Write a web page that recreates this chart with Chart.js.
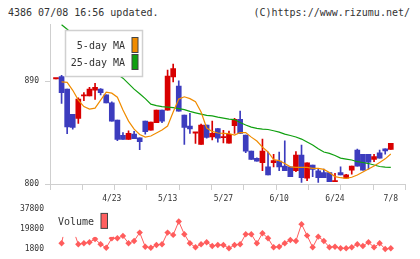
<!DOCTYPE html>
<html>
<head>
<meta charset="utf-8">
<script src="https://cdn.jsdelivr.net/npm/chart.js@4.4.1/dist/chart.umd.min.js"></script>
<style>
  body { margin: 0; background: #fff; width: 420px; height: 259px; overflow: hidden; position: relative; }
  .head { position: absolute; top: 6px; font: 10px/14px "DejaVu Sans Mono", monospace; color: #333; white-space: pre; }
  #price, #vol { position: absolute; left: 0; }
  #price { top: 0; }
  #vol { top: 200px; }
</style>
</head>
<body>
<div class="head" style="left:8px">4386 07/08 16:56 updated.</div>
<div class="head" style="right:10px">(C)https://www.rizumu.net/</div>
<canvas id="price" width="420" height="212"></canvas>
<canvas id="vol" width="420" height="59"></canvas>
<script>
// daily candles, oldest first (last one is 7/8)
const open  = [892,894,883,861,857.4,877,877,882,883,878,
               871,856,842.5,839,843.7,840.5,855,847,853.6,864.7,
               864.7,893.8,885.6,860.3,850.7,844.5,834.7,851.5,841.3,848.6,
               840.5,835.8,851,856.5,842.8,828.8,822.5,818.6,815,818.6,
               820,815.7,815,811.6,825.3,805,816.6,811.6,810,810,
               802,810,805,812.2,829.7,826,826,821.6,827.3,830.8,830.3];
const high  = [892,895,883,861,875.4,880,884.5,888,883.6,878,
               872,856,845,846.6,846,840.5,855,854.2,864.7,864.7,
               899.6,904.9,890.3,860.3,861.8,845,852.5,851.5,855,848.6,
               847,846.4,857.4,863.8,842.8,828.8,823,839.3,828,826,
               828,837.8,815,828.3,834,818.6,816.6,813,813,810,
               809.3,815,808.5,815.7,830.5,826,826,826,829.7,830.8,835.5];
const low   = [892,870.5,844,848,853,873,877,874,878,871,
               855,838,839,839,839.6,830,843.7,847,853.6,853.6,
               864.7,889.4,863.8,834.7,844.3,835.5,834.7,840,838.5,836.6,
               836,835.8,844.3,844.3,827.5,821.6,820,811.6,807.9,815,
               811.6,811.6,806.4,810.7,801.4,803,806.4,801.4,805.5,802,
               802,807.9,805,808.7,815.7,812.2,813,819.6,822.5,826,830.3];
const close = [892,880,850,849.5,874.3,878,883,884.5,880,871,
               855,839,839,844.3,839.6,837,845.7,854.2,864.7,855,
               894.4,901,863.8,849.5,848.3,845,851.5,840.8,844.3,840,
               841,843.4,856.5,844.3,828.8,821.6,820,828.8,808,820.4,
               815,811.6,806.4,825.3,805.5,818.6,812.8,805.5,805.5,802,
               802.6,808,808,815.7,815.7,812.2,819,824,822.5,829,835.5];

const ma5  = [null,889.4,888.9,882,873.4,867.7,865.5,866.4,873.4,880.4,
              879.5,876,864.7,855,848,843.3,841,842,844.6,847.2,
              850.7,863,874.3,876.3,874.7,872,863,849,846,844.6,
              844.3,844.1,842.8,845,845,841,837.6,832.3,828,821.4,
              820.4,818,815,814.6,814.6,814.6,813.7,813.7,812.8,810,
              806.5,805.5,805,805.9,807.9,810.5,813.1,815.7,818.8,822,826.2];
const ma25 = [null,939.4,935.4,931,926.7,922.3,917.9,913.6,909.2,904.9,
              900.5,896,892.6,887.8,883,879,874.7,869.9,868.6,867.7,
              867.3,866.8,866,865.1,863.5,862.3,861.2,860,859.6,858.5,
              857.7,856.8,856.4,853.8,851.6,849.8,848.7,848.1,847.7,846.6,
              845.4,843.7,842.4,841.1,839.3,836.7,834.1,830.8,828,826.8,
              824.9,822.7,821.8,821,819.5,818.8,817.9,816.6,815.3,814.7,814.6];

const volume = [null,6550,30000,20000,5640,6550,7460,10480,5640,2530,
                11120,11120,13220,6550,8650,16240,3440,2530,5000,5640,
                16240,14130,26290,14770,6550,2900,5640,7460,4080,5000,
                5000,1980,5000,5640,14770,14770,6550,15690,11120,2900,
                3440,6550,9570,8650,23910,13500,2900,12580,8650,2900,
                3440,1980,1980,2900,5640,4080,7460,2900,6550,1340,1980];

const tickDays   = [10,20,30,40,50,60];
const tickLabels = ['4/23','5/13','5/27','6/10','6/24','7/8'];
const priceTicks = [800,890];
const volTicks   = [1800,19800,37800];

const UP = '#d80000', DOWN = '#3c3cbe';
const ORANGE = '#f08c00', GREEN = '#10a010', VOLCOL = '#ff5c5c';
const FONT = '"DejaVu Sans Mono", monospace';
const xMin = -1.075, xMax = 62.6;

const xy = arr => arr.map((v, i) => ({ x: i, y: v }));
const candleColor = close.map((c, i) => c >= open[i] ? UP : DOWN);

const priceLegend = {
  id: 'priceLegend',
  afterDatasetsDraw(chart) {
    const { ctx, chartArea: a } = chart;
    const x = a.left + 15, y = a.top + 6;
    ctx.save();
    ctx.fillStyle = '#fff';
    ctx.fillRect(x, y, 78, 47);
    ctx.strokeStyle = '#d0d0d0';
    ctx.lineWidth = 1.5;
    ctx.strokeRect(x + 0.5, y + 0.5, 77, 46);
    ctx.font = '10px ' + FONT;
    ctx.textAlign = 'right';
    ctx.textBaseline = 'middle';
    [['5-day MA', ORANGE], ['25-day MA', GREEN]].forEach(([t, c], i) => {
      ctx.fillStyle = '#333';
      ctx.fillText(t, x + 60, y + 16.5 + i * 17);
      ctx.fillStyle = c;
      ctx.fillRect(x + 67, y + 7.5 + i * 17, 6, 15);
      ctx.strokeStyle = '#444';
      ctx.lineWidth = 1;
      ctx.strokeRect(x + 67, y + 7.5 + i * 17, 6, 15);
    });
    ctx.restore();
  }
};

const volLegend = {
  id: 'volLegend',
  afterDatasetsDraw(chart) {
    const { ctx, chartArea: a } = chart;
    ctx.save();
    ctx.fillStyle = '#fff';
    ctx.fillRect(a.left + 5, a.top + 4.5, 58, 26);
    ctx.font = '10px ' + FONT;
    ctx.fillStyle = '#333';
    ctx.textAlign = 'left';
    ctx.textBaseline = 'middle';
    ctx.fillText('Volume', a.left + 8, a.top + 16);
    ctx.fillStyle = '#ff6060';
    ctx.fillRect(a.left + 51, a.top + 7, 6.5, 15);
    ctx.strokeStyle = '#444';
    ctx.lineWidth = 1;
    ctx.strokeRect(a.left + 51, a.top + 7, 6.5, 15);
    ctx.restore();
  }
};

new Chart(document.getElementById('price'), {
  type: 'bar',
  data: {
    datasets: [
      { type: 'line', data: xy(ma5), borderColor: ORANGE, borderWidth: 1.2,
        pointRadius: 0, order: 0 },
      { type: 'line', data: xy(ma25), borderColor: GREEN, borderWidth: 1.2,
        pointRadius: 0, order: 1 },
      { data: open.map((o, i) => ({ x: i, y: [o, close[i]] })),
        backgroundColor: candleColor, barThickness: 5, minBarLength: 1.2,
        grouped: false, order: 2 },
      { data: low.map((l, i) => ({ x: i, y: [l, high[i]] })),
        backgroundColor: candleColor, barThickness: 1, grouped: false, order: 3 }
    ]
  },
  options: {
    responsive: false,
    animation: false,
    layout: { padding: { top: 24, right: 14.7, left: 0, bottom: 0 } },
    plugins: { legend: { display: false }, tooltip: { enabled: false } },
    scales: {
      x: {
        type: 'linear', min: xMin, max: xMax, offset: false,
        grid: { drawOnChartArea: false, color: '#cfcfcf', tickLength: 6, offset: false },
        border: { color: '#cfcfcf' },
        ticks: { display: false },
        afterBuildTicks: axis => {
          const step = (xMax - xMin) / 11;
          axis.ticks = Array.from({ length: 12 }, (_, k) => ({ value: xMin + k * step }));
        },
        afterFit: axis => { axis.height = 8; }
      },
      xl: {
        type: 'linear', position: 'bottom', min: xMin, max: xMax, offset: false,
        grid: { display: false, drawTicks: false, offset: false },
        border: { display: false },
        ticks: {
          autoSkip: false, maxRotation: 0, padding: 2, color: '#333',
          font: { family: FONT, size: 8 },
          callback: (v, i) => tickLabels[i]
        },
        afterBuildTicks: axis => { axis.ticks = tickDays.map(v => ({ value: v })); },
        afterFit: axis => { axis.height = 20; }
      },
      y: {
        min: 800, max: 940,
        grid: { drawOnChartArea: false, color: '#cfcfcf', tickLength: 5 },
        border: { color: '#cfcfcf' },
        ticks: { padding: 6, color: '#333', font: { family: FONT, size: 8 } },
        afterBuildTicks: axis => { axis.ticks = priceTicks.map(v => ({ value: v })); },
        afterFit: axis => { axis.width = 50; }
      }
    }
  },
  plugins: [priceLegend]
});

new Chart(document.getElementById('vol'), {
  type: 'line',
  data: {
    datasets: [{
      data: xy(volume), borderColor: VOLCOL, backgroundColor: VOLCOL,
      borderWidth: 1, pointStyle: 'rectRot', pointRadius: 3.2,
      pointBorderWidth: 0, clip: false, spanGaps: false
    }]
  },
  options: {
    responsive: false,
    animation: false,
    layout: { padding: { top: 6.4, right: 14.7, left: 0, bottom: 8.5 } },
    plugins: { legend: { display: false }, tooltip: { enabled: false } },
    scales: {
      x: { type: 'linear', min: xMin, max: xMax, offset: false, display: false },
      y: {
        min: 0, max: 40000,
        grid: { display: false, drawTicks: true, tickLength: 6 },
        border: { display: false },
        ticks: { padding: 0, color: '#333', font: { family: FONT, size: 8 },
                 callback: v => String(v) },
        afterBuildTicks: axis => { axis.ticks = volTicks.map(v => ({ value: v })); },
        afterFit: axis => { axis.width = 50; }
      }
    }
  },
  plugins: [volLegend]
});
</script>
</body>
</html>
